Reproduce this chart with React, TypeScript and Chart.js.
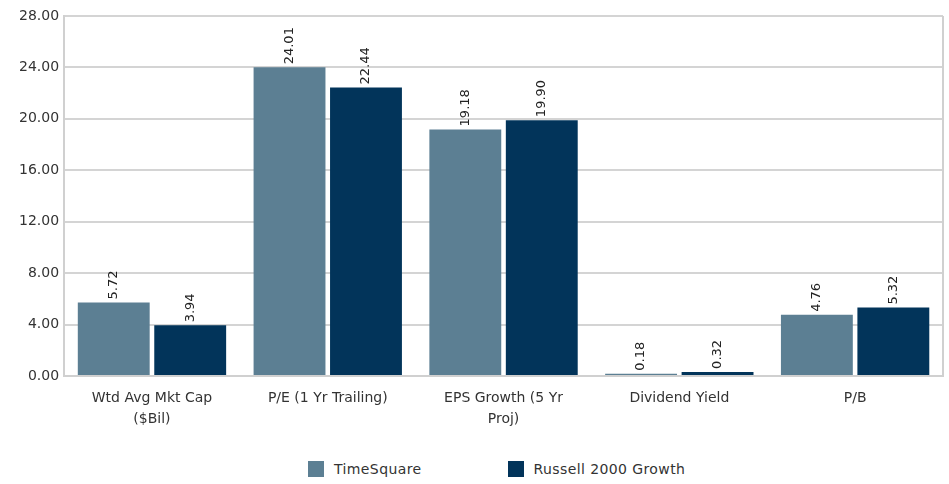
import React, { useEffect, useRef } from "react";
import { Chart, registerables } from "chart.js";

Chart.register(...registerables);

const categories: (string | string[])[] = [
  ["Wtd Avg Mkt Cap", "($Bil)"],
  "P/E (1 Yr Trailing)",
  ["EPS Growth (5 Yr", "Proj)"],
  "Dividend Yield",
  "P/B",
];
const timeSquare = [5.72, 24.01, 19.18, 0.18, 4.76];
const russell = [3.94, 22.44, 19.9, 0.32, 5.32];
const seriesNames = ["TimeSquare", "Russell 2000 Growth"];
const colors = ["#5C7F93", "#02345A"];

const FONT = "'DejaVu Sans', sans-serif";

const valueLabels = {
  id: "valueLabels",
  afterDatasetsDraw(chart: any) {
    const ctx = chart.ctx;
    ctx.save();
    ctx.font = `13px ${FONT}`;
    ctx.fillStyle = "#222";
    ctx.textAlign = "left";
    ctx.textBaseline = "middle";
    chart.data.datasets.forEach((ds: any, i: number) => {
      const meta = chart.getDatasetMeta(i);
      meta.data.forEach((bar: any, j: number) => {
        const v = ds.data[j] as number;
        ctx.save();
        ctx.translate(bar.x, bar.y - 3);
        ctx.rotate(-Math.PI / 2);
        ctx.fillText(v.toFixed(2), 0, 0);
        ctx.restore();
      });
    });
    ctx.restore();
  },
};

const frame = {
  id: "frame",
  afterDraw(chart: any) {
    const { ctx, chartArea } = chart;
    ctx.save();
    ctx.strokeStyle = "#d0d0d0";
    ctx.lineWidth = 2;
    ctx.beginPath();
    ctx.moveTo(chartArea.right, chartArea.top);
    ctx.lineTo(chartArea.right, chartArea.bottom);
    ctx.stroke();
    ctx.restore();
  },
};

export default function App() {
  const ref = useRef<HTMLCanvasElement>(null);
  useEffect(() => {
    if (!ref.current) return;
    const chart = new Chart(ref.current, {
      type: "bar",
      data: {
        labels: categories,
        datasets: [
          { label: seriesNames[0], data: timeSquare, backgroundColor: colors[0] },
          { label: seriesNames[1], data: russell, backgroundColor: colors[1] },
        ],
      },
      options: {
        responsive: false,
        animation: false,
        layout: { padding: { left: 14, right: 6, top: 16, bottom: 0 } },
        datasets: { bar: { categoryPercentage: 0.87, barPercentage: 0.94 } },
        plugins: {
          legend: { display: false },
          tooltip: { enabled: false },
        },
        scales: {
          x: {
            grid: { display: false },
            border: { color: "#d0d0d0", width: 2 },
            ticks: {
              color: "#333",
              font: { family: FONT, size: 14, lineHeight: 1.5 },
              maxRotation: 0,
              autoSkip: false,
              padding: 4,
            },
          },
          y: {
            min: 0,
            max: 28,
            grid: { color: "#d4d4d4", lineWidth: 2, drawTicks: false },
            border: { color: "#d0d0d0", width: 2 },
            ticks: {
              stepSize: 4,
              color: "#333",
              font: { family: FONT, size: 14 },
              padding: 5,
              callback: (v: any) => Number(v).toFixed(2),
            },
          },
        },
      },
      plugins: [valueLabels, frame],
    });
    return () => chart.destroy();
  }, []);

  return (
    <div style={{ position: "fixed", left: 0, top: 0, width: 949, height: 484, background: "#fff" }}>
      <canvas ref={ref} width={949} height={434} style={{ display: "block" }} />
      <div
        style={{
          position: "absolute",
          top: 461,
          left: 0,
          width: 949,
          display: "flex",
          justifyContent: "flex-start",
          paddingLeft: 308,
          boxSizing: "border-box",
          gap: 86,
          fontFamily: FONT,
          fontSize: 14,
          letterSpacing: 0.4,
          color: "#333",
        }}
      >
        {seriesNames.map((n, i) => (
          <div key={n} style={{ display: "flex", alignItems: "center", gap: 10 }}>
            <span style={{ display: "inline-block", width: 16, height: 16, background: colors[i] }} />
            <span>{n}</span>
          </div>
        ))}
      </div>
    </div>
  );
}
